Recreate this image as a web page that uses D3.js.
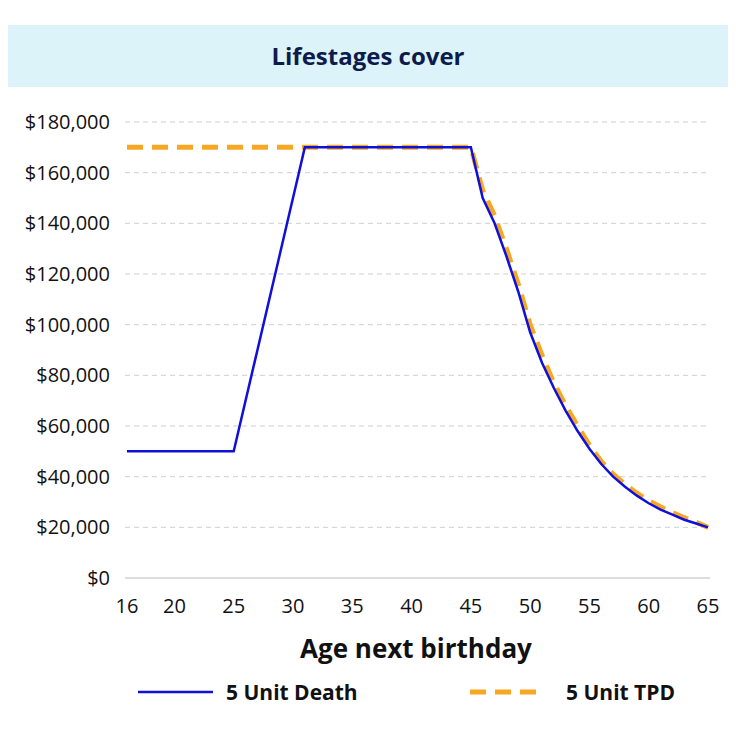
<!DOCTYPE html>
<html><head><meta charset="utf-8">
<script src="https://cdn.jsdelivr.net/npm/d3@7"></script>
<style>body{margin:0;background:#fff}text{font-family:"Open Sans",Lato,sans-serif}</style>
</head><body><svg id="c" width="736" height="736"></svg>
<script>
const deathAges=[16,25,31,45,46,47,48,49,50,51,52,53,54,55,56,57,58,59,60,61,62,63,64,65];
const deathVals=[50000,50000,170000,170000,150000,140000,127000,113000,97000,85000,75000,66000,58000,51000,45000,40000,36000,32500,29500,27000,25000,23000,21500,20000];
const tpdAges=[16,45,46,47,48,49,50,51,52,53,54,55,56,57,58,59,60,61,62,63,64,65];
const tpdVals=[170000,170000,153000,143000,130000,116000,100000,88000,77000,68000,60000,52500,46000,41000,37000,33500,30500,28000,25800,23800,22000,20000];
const xTicks=[16,20,25,30,35,40,45,50,55,60,65];
const yTicks=[0,20000,40000,60000,80000,100000,120000,140000,160000,180000];

const svg=d3.select("#c");
svg.append("rect").attr("x",8).attr("y",25).attr("width",720).attr("height",62).attr("fill","#dcf3fa");
svg.append("text").attr("x",368).attr("y",65).attr("text-anchor","middle").attr("font-size",24).attr("font-weight","bold").attr("fill","#0d1b4c").text("Lifestages cover");

const x=d3.scaleLinear().domain([16,65]).range([127,708]);
const y=d3.scaleLinear().domain([0,180000]).range([578,122]);

const g=svg.append("g");
yTicks.forEach(t=>{
  if(t>0) g.append("line").attr("x1",125).attr("x2",710).attr("y1",y(t)).attr("y2",y(t)).attr("stroke","#d0d0d0").attr("stroke-dasharray","5,4");
  g.append("text").attr("x",110).attr("y",y(t)+7).attr("text-anchor","end").attr("font-size",20).attr("fill","#111").text(d3.format("$,")(t));
});
g.append("line").attr("x1",125).attr("x2",710).attr("y1",y(0)).attr("y2",y(0)).attr("stroke","#bbb");
xTicks.forEach(t=>{
  g.append("text").attr("x",x(t)).attr("y",613).attr("text-anchor","middle").attr("font-size",20).attr("fill","#111").text(t);
});
svg.append("text").attr("x",416).attr("y",658).attr("text-anchor","middle").attr("font-size",26).attr("font-weight","bold").attr("fill","#111").text("Age next birthday");

const line=d3.line().x(d=>x(d[0])).y(d=>y(d[1]));
svg.append("path").attr("d",line(tpdAges.map((a,i)=>[a,tpdVals[i]]))).attr("fill","none").attr("stroke","#f7a823").attr("stroke-width",5).attr("stroke-dasharray","16,9");
svg.append("path").attr("d",line(deathAges.map((a,i)=>[a,deathVals[i]]))).attr("fill","none").attr("stroke","#1010d8").attr("stroke-width",2.5);

svg.append("line").attr("x1",138).attr("x2",213).attr("y1",692).attr("y2",692).attr("stroke","#1010d8").attr("stroke-width",2.5);
svg.append("text").attr("x",226).attr("y",700).attr("font-size",21).attr("font-weight","bold").attr("fill","#111").text("5 Unit Death");
svg.append("line").attr("x1",470).attr("x2",545).attr("y1",692).attr("y2",692).attr("stroke","#f7a823").attr("stroke-width",5).attr("stroke-dasharray","16,9");
svg.append("text").attr("x",566).attr("y",700).attr("font-size",21).attr("font-weight","bold").attr("fill","#111").text("5 Unit TPD");
</script></body></html>
